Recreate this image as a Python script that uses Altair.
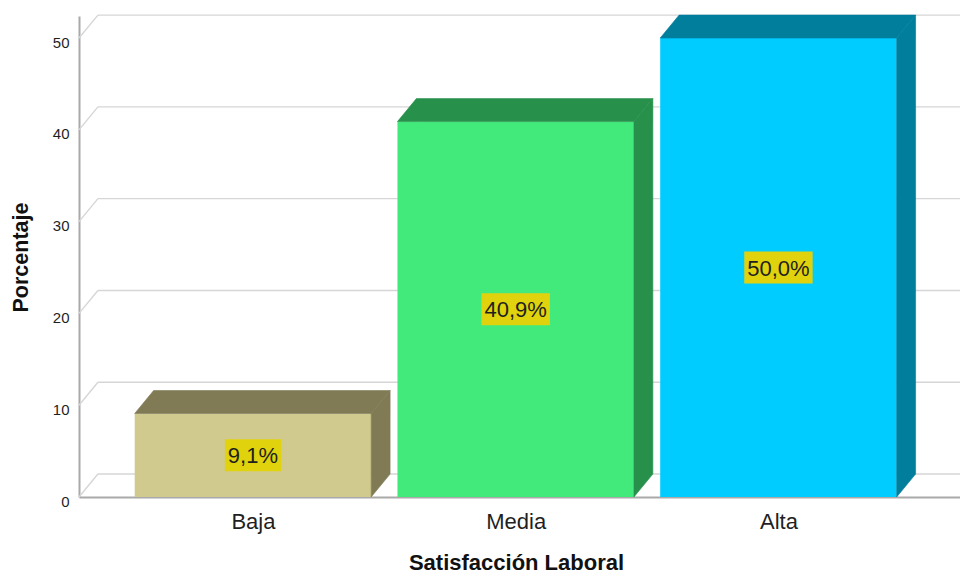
import json

import altair as alt
import pandas as pd

# --- data -------------------------------------------------------------
categories = ["Baja", "Media", "Alta"]
percentages = [9.1, 40.9, 50.0]
front_colors = ["#d0ca8f", "#42ea7c", "#00ccff"]
shade_colors = ["#807b55", "#27914c", "#007e9c"]
y_ticks = [0, 10, 20, 30, 40, 50]

# --- geometry of the pseudo-3D drawing (data units) ---------------------
BAR_WIDTH = 0.9
DEPTH_X = 0.072
DEPTH_Y = 2.5
X_DOMAIN = [-0.662, 2.691]
Y_DOMAIN = [0, 52.4]
PLOT_W, PLOT_H = 881, 481
PX_PER_X = PLOT_W / (X_DOMAIN[1] - X_DOMAIN[0])
PX_PER_Y = PLOT_H / (Y_DOMAIN[1] - Y_DOMAIN[0])

FONT = "Liberation Sans"
TEXT_COLOR = "#1f1f1f"
AXIS_COLOR = "#a9a9a9"
GRID_COLOR = "#d6d6d6"
LABEL_BOX = "#e0d30e"
LABEL_SIZE = 22
# approximate advance widths (em) for the value labels
CHAR_EM = {",": 0.278, "%": 0.889}


def fmt(v):
    return f"{v:.1f}".replace(".", ",") + "%"


def text_px(s, size):
    return sum(CHAR_EM.get(c, 0.556) for c in s) * size


fronts, faces, boxes, texts = [], [], [], []
for i, (cat, v, fc, sc) in enumerate(zip(categories, percentages, front_colors, shade_colors)):
    x0, x1 = i - BAR_WIDTH / 2, i + BAR_WIDTH / 2
    fronts.append({"x": x0, "x2": x1, "y": 0, "y2": v, "color": fc})
    # top face of the box
    top = f"{cat}-top"
    faces += [
        {"face": top, "x": x0, "y": v, "y2": v, "color": sc},
        {"face": top, "x": x0 + DEPTH_X, "y": v, "y2": v + DEPTH_Y, "color": sc},
        {"face": top, "x": x1, "y": v, "y2": v + DEPTH_Y, "color": sc},
        {"face": top, "x": x1 + DEPTH_X, "y": v + DEPTH_Y, "y2": v + DEPTH_Y, "color": sc},
    ]
    # right side face of the box
    side = f"{cat}-side"
    faces += [
        {"face": side, "x": x1, "y": 0, "y2": v, "color": sc},
        {"face": side, "x": x1 + DEPTH_X, "y": DEPTH_Y, "y2": v + DEPTH_Y, "color": sc},
    ]
    label = fmt(v)
    half_w = (text_px(label, LABEL_SIZE) / 2 + 3) / PX_PER_X
    half_h = 16 / PX_PER_Y
    boxes.append({"x": i - half_w, "x2": i + half_w, "y": v / 2 - half_h, "y2": v / 2 + half_h})
    texts.append({"x": i, "y": v / 2, "label": label})

grid_h = [{"x": X_DOMAIN[0] + DEPTH_X, "x2": X_DOMAIN[1], "y": t + DEPTH_Y} for t in y_ticks]
grid_d = [{"x": X_DOMAIN[0], "x2": X_DOMAIN[0] + DEPTH_X, "y": t, "y2": t + DEPTH_Y} for t in y_ticks]

xs = alt.Scale(domain=X_DOMAIN, nice=False, zero=False)
ys = alt.Scale(domain=Y_DOMAIN, nice=False, zero=False)

x_axis = alt.Axis(
    values=[0, 1, 2],
    labelExpr=f"{json.dumps(categories)}[datum.value]",
    title="Satisfacción Laboral",
    grid=False, ticks=False, tickSize=0,
    domainColor=AXIS_COLOR, domainWidth=2,
    labelFont=FONT, labelFontSize=22, labelColor=TEXT_COLOR, labelPadding=14,
    labelFlush=False, labelOverlap=False,
    titleFont=FONT, titleFontSize=22, titleFontWeight="bold", titleColor="#111111",
    titleX=437, titleY=72, titleBaseline="alphabetic", titleAlign="center",
)
y_axis = alt.Axis(
    values=y_ticks,
    title="Porcentaje",
    grid=False, ticks=False, tickSize=0,
    domainColor=AXIS_COLOR, domainWidth=2,
    labelFont=FONT, labelFontSize=15, labelColor=TEXT_COLOR, labelPadding=10,
    labelBaseline="middle", labelOffset=4,
    titleFont=FONT, titleFontSize=21.5, titleFontWeight="bold", titleColor="#111111",
    titleAngle=270, titleX=-52, titleY=241, titleBaseline="alphabetic", titleAlign="center",
)


def X(field="x"):
    return alt.X(f"{field}:Q", scale=xs, axis=x_axis)


def Y(field="y", **kw):
    return alt.Y(f"{field}:Q", scale=ys, axis=y_axis, **kw)


grid_back = alt.Chart(pd.DataFrame(grid_h)).mark_rule(color=GRID_COLOR, strokeWidth=1.4).encode(
    x=X(), x2="x2:Q", y=Y(),
)
grid_diag = alt.Chart(pd.DataFrame(grid_d)).mark_rule(color=GRID_COLOR, strokeWidth=1.4).encode(
    x=X(), x2="x2:Q", y=Y(), y2="y2:Q",
)
front = alt.Chart(pd.DataFrame(fronts)).mark_rect().encode(
    x=X(), x2="x2:Q", y=Y(), y2="y2:Q",
    fill=alt.Fill("color:N", scale=None),
)
shade = alt.Chart(pd.DataFrame(faces)).mark_area(strokeWidth=0.6).encode(
    x=X(), y=Y(stack=None), y2="y2:Q",
    fill=alt.Fill("color:N", scale=None),
    stroke=alt.Stroke("color:N", scale=None),
    detail="face:N",
)
label_bg = alt.Chart(pd.DataFrame(boxes)).mark_rect(color=LABEL_BOX).encode(
    x=X(), x2="x2:Q", y=Y(), y2="y2:Q",
)
label_txt = alt.Chart(pd.DataFrame(texts)).mark_text(
    font=FONT, fontSize=LABEL_SIZE, color=TEXT_COLOR, align="center", baseline="middle", dy=1
).encode(
    x=X(), y=Y(), text="label:N",
)

chart = (
    alt.layer(grid_back, grid_diag, front, shade, label_bg, label_txt)
    .properties(
        width=PLOT_W,
        height=PLOT_H,
        autosize=alt.AutoSizeParams(type="none"),
        padding={"left": 79, "top": 16, "right": 0, "bottom": 76},
        background="white",
    )
    .configure_view(stroke=None)
)

chart.save("out.html", embed_options={"renderer": "svg", "actions": False})
